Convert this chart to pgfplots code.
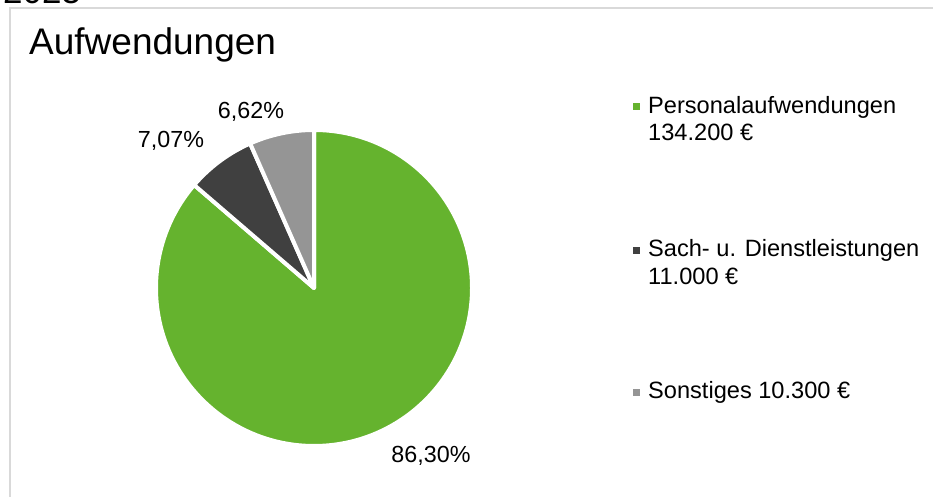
\documentclass[border=0pt]{standalone}
\usepackage{fontspec}
\setmainfont{Liberation Sans}
\usepackage{pgfplots}
\usepackage{pgfplotstable}
\pgfplotsset{compat=1.18}

\definecolor{pgreen}{HTML}{65B32E}
\definecolor{pdark}{HTML}{404040}
\definecolor{plight}{HTML}{959595}
\definecolor{framegray}{HTML}{D9D9D9}

% Aufwendungen in Tsd. EUR
\pgfplotstableread{
label value col
Personal 134.2 pgreen
Sach 11.0 pdark
Sonst 10.3 plight
}\pietable

\begin{document}
\begin{tikzpicture}[x=1pt,y=1pt]
\useasboundingbox (0,0) rectangle (933,497);
\clip (0,0) rectangle (933,497);

% abgeschnittene Jahreszahl oben links
\node[font=\fontsize{35}{40}\selectfont, anchor=base west, inner sep=0] at (3,493) {2025};
% Rahmen
\draw[framegray, line width=1.5pt] (10,-20) -- (10,489) -- (950,489);

% Titel
\node[font=\fontsize{37}{44}\selectfont, anchor=base west, inner sep=0] at (29,442) {Aufwendungen};

\begin{axis}[
    at={(314pt,209pt)}, anchor=center,
    hide axis, scale only axis,
    width=316pt, height=316pt,
    xmin=-1, xmax=1, ymin=-1, ymax=1,
    clip=false,
]
% Summe
\def\total{0}
\pgfplotsforeachungrouped \i in {0,1,2}{%
  \pgfplotstablegetelem{\i}{value}\of\pietable
  \pgfmathsetmacro\total{\total+\pgfplotsretval}%
}
% Segmente im Uhrzeigersinn ab 12 Uhr
\def\cum{0}
\pgfplotsforeachungrouped \i in {0,1,2}{%
  \pgfplotstablegetelem{\i}{value}\of\pietable \let\val\pgfplotsretval
  \pgfplotstablegetelem{\i}{col}\of\pietable \let\colr\pgfplotsretval
  \pgfmathsetmacro\sa{90-360*(\cum/\total)}%
  \pgfmathsetmacro\cum{\cum+\val}%
  \pgfmathsetmacro\ea{90-360*(\cum/\total)}%
  \edef\slicecmd{\noexpand\fill[\colr, draw=white, line width=4pt, line join=round]
    (axis cs:0,0) -- ++(\sa:158pt) arc[start angle=\sa, end angle=\ea, radius=158pt] -- cycle;}%
  \slicecmd
}
\end{axis}

% Datenbeschriftungen
\begin{scope}[every node/.style={font=\fontsize{23.3}{28}\selectfont, anchor=base, inner sep=0}]
\node at (431,34) {86,30\%};
\node at (171,349) {7,07\%};
\node at (251,378) {6,62\%};
\end{scope}

% Legende
\begin{scope}[every node/.style={font=\fontsize{23.6}{28}\selectfont, anchor=base west, inner sep=0}]
\fill[pgreen] (633,387) rectangle (640,394);
\node at (648,383) {Personalaufwendungen};
\node at (648,356) {134.200 €};
\fill[pdark] (633,243) rectangle (640,250);
\node at (648,240) {Sach- u. Dienstleistungen};
\node at (648,212) {11.000 €};
\fill[plight] (633,101) rectangle (640,108);
\node at (648,98) {Sonstiges 10.300 €};
\end{scope}
\end{tikzpicture}
\end{document}
